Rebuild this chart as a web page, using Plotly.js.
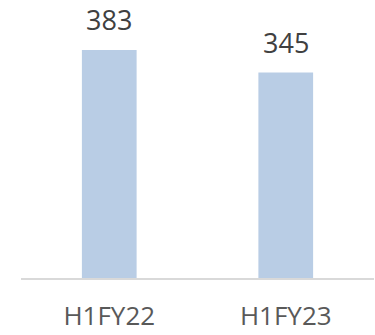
<!DOCTYPE html>
<html><head><meta charset="utf-8">
<script src="https://cdn.plot.ly/plotly-3.0.1.min.js"></script>
<style>html,body{margin:0;padding:0;background:#fff;}#chart{width:375px;height:335px;}</style>
</head><body><div id="chart"></div>
<script>
const categories = ["H1FY22", "H1FY23"];
const values = [383, 345];
const labels = ["383", "345"];

const trace = {
  type: "bar",
  x: categories,
  y: values,
  marker: {color: "#b9cde5"},
  hoverinfo: "none"
};
const annotations = categories.map((c, i) => ({
  x: c, y: values[i], xref: "x", yref: "y",
  text: labels[i], showarrow: false, yanchor: "bottom", yshift: 10,
  font: {family: "Open Sans", size: 27, color: "#404040"}
}));
const layout = {
  width: 375, height: 335,
  margin: {l: 21, r: 1, t: 20, b: 57},
  paper_bgcolor: "#fff", plot_bgcolor: "#fff",
  bargap: 0.69,
  showlegend: false,
  xaxis: {
    showline: true, linecolor: "#d9d9d9", linewidth: 2,
    ticks: "", showgrid: false, zeroline: false,
    tickfont: {family: "Open Sans", size: 26, color: "#595959"},
    ticklabelstandoff: 14
  },
  yaxis: {
    range: [0, 433.4], visible: false, showgrid: false, zeroline: false
  },
  annotations: annotations
};
Plotly.newPlot("chart", [trace], layout, {displayModeBar: false, staticPlot: true});
</script></body></html>
